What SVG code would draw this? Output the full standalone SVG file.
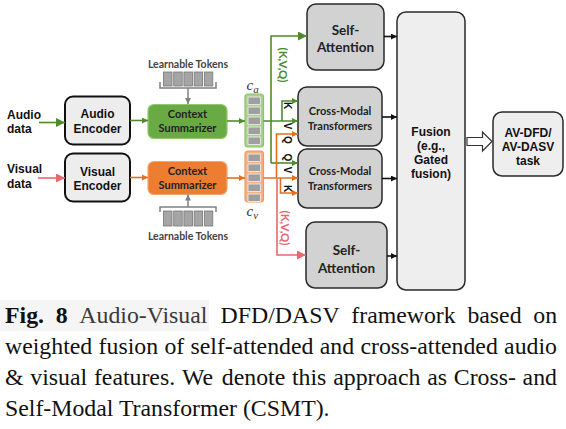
<svg xmlns="http://www.w3.org/2000/svg" width="566" height="429" viewBox="0 0 566 429">
<style>
.ar{font-family:"Liberation Sans",Arial,sans-serif;font-weight:bold;font-size:12px;fill:#111;text-anchor:middle}
.lb{font-family:"Liberation Sans",Arial,sans-serif;font-weight:bold;font-size:12px;fill:#111}
.cb{font-family:Lato,"Open Sans",sans-serif;font-weight:bold;font-size:11px;fill:#222;text-anchor:middle}
.sa{font-family:Lato,"Open Sans",sans-serif;font-weight:bold;font-size:13.5px;fill:#222;text-anchor:middle}
.lt{font-family:Lato,"Open Sans",sans-serif;font-weight:bold;font-size:10.5px;fill:#444;text-anchor:middle}
.kv{font-family:"Liberation Sans",Arial,sans-serif;font-weight:bold;font-size:10px;fill:#111;text-anchor:middle}
.kvq{font-family:Lato,"Open Sans",sans-serif;font-weight:bold;font-size:11.5px;text-anchor:middle}
.cv{font-family:"Liberation Serif","Times New Roman",serif;font-style:italic;font-size:15px;fill:#333}
.cap{font-family:"Liberation Serif","Times New Roman",serif;font-size:23.8px;fill:#111}
.enc{fill:#ededed;stroke:#111;stroke-width:2}
.att{fill:#d2d2d2;stroke:#2a2a2a;stroke-width:1.5}
.big{fill:#eeeeee;stroke:#2a2a2a;stroke-width:1.5}
.tok{fill:#a5a5a5;stroke:#777;stroke-width:0.8}
.cell{fill:#9f9f9f;stroke:#f2f2f2;stroke-width:0.8}
.g{stroke:#4e8b2c;stroke-width:1.6;fill:none}
.o{stroke:#e0701e;stroke-width:1.6;fill:none}
.p{stroke:#e9676d;stroke-width:1.6;fill:none}
.k{stroke:#111;stroke-width:1.6;fill:none}
.gr{stroke:#808080;stroke-width:1.5;fill:none}
</style>
<defs>
<marker id="mgB" viewBox="0 0 10 10" refX="10" refY="5" markerWidth="11" markerHeight="9" markerUnits="userSpaceOnUse" orient="auto"><path d="M0,0 L10,5 L0,10 z" fill="#4e8b2c"/></marker>
<marker id="mgS" viewBox="0 0 10 10" refX="10" refY="5" markerWidth="7" markerHeight="6" markerUnits="userSpaceOnUse" orient="auto"><path d="M0,0 L10,5 L0,10 z" fill="#4e8b2c"/></marker>
<marker id="moS" viewBox="0 0 10 10" refX="10" refY="5" markerWidth="7" markerHeight="6" markerUnits="userSpaceOnUse" orient="auto"><path d="M0,0 L10,5 L0,10 z" fill="#e0701e"/></marker>
<marker id="mpB" viewBox="0 0 10 10" refX="10" refY="5" markerWidth="11" markerHeight="9" markerUnits="userSpaceOnUse" orient="auto"><path d="M0,0 L10,5 L0,10 z" fill="#e9676d"/></marker>
<marker id="mkS" viewBox="0 0 10 10" refX="10" refY="5" markerWidth="6" markerHeight="6" markerUnits="userSpaceOnUse" orient="auto"><path d="M0,0 L10,5 L0,10 z" fill="#111"/></marker>
<marker id="mgr" viewBox="0 0 10 10" refX="10" refY="5" markerWidth="6" markerHeight="6" markerUnits="userSpaceOnUse" orient="auto"><path d="M0,0 L10,5 L0,10 z" fill="#808080"/></marker>
</defs>

<g id="audio-data"><text class="lb" x="7" y="118.5">Audio</text><text class="lb" x="7" y="133">data</text></g>
<g id="visual-data"><text class="lb" x="7" y="173">Visual</text><text class="lb" x="7" y="188">data</text></g>

<g id="audio-encoder"><rect class="enc" x="65" y="96.5" width="65" height="48" rx="8"/><text class="ar" x="97.5" y="118">Audio</text><text class="ar" x="97.5" y="132.5">Encoder</text></g>
<g id="visual-encoder"><rect class="enc" x="65" y="153.5" width="65" height="48" rx="8"/><text class="ar" x="97.5" y="175.5">Visual</text><text class="ar" x="97.5" y="190">Encoder</text></g>

<g id="audio-summarizer"><rect x="148" y="104.5" width="79" height="34" rx="6" fill="#6aaa45" stroke="#93c872" stroke-width="1.2"/><text class="cb" x="187.5" y="118">Context</text><text class="cb" x="187.5" y="132">Summarizer</text></g>
<g id="visual-summarizer"><rect x="148" y="161.5" width="79" height="33" rx="6" fill="#ed7d31" stroke="#f4a56f" stroke-width="1.2"/><text class="cb" x="187.5" y="175">Context</text><text class="cb" x="187.5" y="189">Summarizer</text></g>

<g id="tokens-top">
<text class="lt" x="188" y="67.5">Learnable Tokens</text>
<rect class="tok" x="163.5" y="72" width="8.5" height="14"/><rect class="tok" x="173.7" y="72" width="8.5" height="14"/><rect class="tok" x="183.9" y="72" width="8.5" height="14"/><rect class="tok" x="194.1" y="72" width="8.5" height="14"/><rect class="tok" x="204.3" y="72" width="8.5" height="14"/>
<path class="gr" d="M160,82 V88 H216 V82"/>
</g>
<g id="tokens-bottom">
<path class="gr" d="M160,212 V207 H216 V212"/>
<rect class="tok" x="163.5" y="211" width="8.5" height="15"/><rect class="tok" x="173.7" y="211" width="8.5" height="15"/><rect class="tok" x="183.9" y="211" width="8.5" height="15"/><rect class="tok" x="194.1" y="211" width="8.5" height="15"/><rect class="tok" x="204.3" y="211" width="8.5" height="15"/>
<text class="lt" x="188" y="239.5">Learnable Tokens</text>
</g>

<g id="ca-stack">
<rect x="245" y="94" width="18.5" height="53" rx="3" fill="#a9d18e" stroke="#8cc46a" stroke-width="1.2"/>
<rect class="cell" x="248" y="97" width="12.5" height="7.5"/><rect class="cell" x="248" y="107" width="12.5" height="7.5"/><rect class="cell" x="248" y="117" width="12.5" height="7.5"/><rect class="cell" x="248" y="127" width="12.5" height="7.5"/><rect class="cell" x="248" y="137" width="12.5" height="7.5"/>
<text class="cv" x="246.5" y="90">c<tspan font-size="11" dy="3">a</tspan></text>
</g>
<g id="cv-stack">
<rect x="245" y="151" width="18.5" height="51" rx="3" fill="#f4b183" stroke="#eb9a62" stroke-width="1.2"/>
<rect class="cell" x="248" y="154" width="12.5" height="7.5"/><rect class="cell" x="248" y="164" width="12.5" height="7.5"/><rect class="cell" x="248" y="174" width="12.5" height="7.5"/><rect class="cell" x="248" y="184" width="12.5" height="7.5"/><rect class="cell" x="248" y="194" width="12.5" height="7.5"/>
<text class="cv" x="246.5" y="216">c<tspan font-size="11" dy="3">v</tspan></text>
</g>

<g id="self-attention-audio"><rect class="att" x="307" y="4" width="77" height="66" rx="9"/><text class="sa" x="345.5" y="34.5">Self-</text><text class="sa" x="345.5" y="51.5">Attention</text></g>
<g id="cross-modal-1"><rect class="att" x="298" y="87" width="84" height="59" rx="9"/><text class="cb" x="340" y="115">Cross-Modal</text><text class="cb" x="340" y="130">Transformers</text></g>
<g id="cross-modal-2"><rect class="att" x="298" y="149" width="84" height="59" rx="9"/><text class="cb" x="340" y="175">Cross-Modal</text><text class="cb" x="340" y="190">Transformers</text></g>
<g id="self-attention-visual"><rect class="att" x="306" y="222" width="81" height="66" rx="9"/><text class="sa" x="346.5" y="254.5">Self-</text><text class="sa" x="346.5" y="272.5">Attention</text></g>

<g id="fusion"><rect class="big" x="397" y="12" width="68" height="278" rx="9"/><text class="ar" x="431" y="135.5">Fusion</text><text class="ar" x="431" y="150">(e.g.,</text><text class="ar" x="431" y="164">Gated</text><text class="ar" x="431" y="178">fusion)</text></g>
<g id="task"><rect class="big" x="493" y="112" width="70" height="64" rx="9"/><text class="ar" x="528" y="137">AV-DFD/</text><text class="ar" x="528" y="151">AV-DASV</text><text class="ar" x="528" y="165">task</text></g>

<g id="connectors">
<path class="g" d="M39,122.5 H65" marker-end="url(#mgB)"/>
<path class="p" d="M38,178 H65" marker-end="url(#mpB)"/>
<path class="g" d="M130,120.5 H148" marker-end="url(#mgS)"/>
<path class="o" d="M130,177.5 H148" marker-end="url(#moS)"/>
<path class="g" d="M227,121 H245" marker-end="url(#mgS)"/>
<path class="o" d="M227,178 H245" marker-end="url(#moS)"/>
<path class="gr" d="M188,88 V104" marker-end="url(#mgr)"/>
<path class="gr" d="M188,207 V194.5" marker-end="url(#mgr)"/>
<path class="g" d="M263.5,121 H298" marker-end="url(#mgS)"/>
<path class="g" d="M282,121 V101 H298" marker-end="url(#mgS)"/>
<path class="g" d="M271,163 V36 H307" marker-end="url(#mgB)"/>
<path class="g" d="M271,163 H298" marker-end="url(#mgS)"/>
<path class="o" d="M263.5,178 H298" marker-end="url(#moS)"/>
<path class="o" d="M276.5,178 V134 H298" marker-end="url(#moS)"/>
<path class="o" d="M280.5,178 V193 H298" marker-end="url(#moS)"/>
<path class="p" d="M277,179 V255 H306" marker-end="url(#mpB)"/>
<path class="k" d="M384,36.5 H397" marker-end="url(#mkS)"/>
<path class="k" d="M382,117 H397" marker-end="url(#mkS)"/>
<path class="k" d="M382,178.5 H397" marker-end="url(#mkS)"/>
<path class="k" d="M387,256 H397" marker-end="url(#mkS)"/>
<path d="M467,137.5 H482.5 V132 L492,141.5 L482.5,151 V145.5 H467 Z" fill="#fff" stroke="#333" stroke-width="1.2"/>
<text class="kvq" fill="#4e8b2c" transform="translate(278.5,65) rotate(90)">(K,V,Q)</text>
<text class="kvq" fill="#e9676d" transform="translate(280.5,228) rotate(90)">(K,V,Q)</text>
<text class="kv" transform="translate(284,105.5) rotate(90)">K</text>
<text class="kv" transform="translate(284,126) rotate(90)">V</text>
<text class="kv" transform="translate(284,140) rotate(90)">Q</text>
<text class="kv" transform="translate(284,157.5) rotate(90)">Q</text>
<text class="kv" transform="translate(284,170) rotate(90)">V</text>
<text class="kv" transform="translate(284,188.5) rotate(90)">K</text>
</g>

<g id="caption">
<rect x="0" y="300" width="209" height="31" fill="#f5f5f5"/>
<text class="cap" y="323" fill="#333"><tspan x="5" font-weight="bold">Fig.</tspan><tspan x="55.7" font-weight="bold">8</tspan><tspan x="79.3" fill="#3a3a3a">Audio-Visual</tspan></text>
<text class="cap" y="323"><tspan x="220.6">DFD/DASV</tspan><tspan x="351.3">framework</tspan><tspan x="467.4">based</tspan><tspan x="533.3">on</tspan></text>
<text class="cap" y="354"><tspan x="5">weighted</tspan><tspan x="98.6">fusion</tspan><tspan x="164.4">of</tspan><tspan x="190.5">self-attended</tspan><tspan x="319.7">and</tspan><tspan x="360.4">cross-attended</tspan><tspan x="504.1">audio</tspan></text>
<text class="cap" y="385"><tspan x="5">&amp;</tspan><tspan x="30.3">visual</tspan><tspan x="93.9">features.</tspan><tspan x="182">We</tspan><tspan x="221.8">denote</tspan><tspan x="292">this</tspan><tspan x="333.2">approach</tspan><tspan x="427.2">as</tspan><tspan x="453.8">Cross-</tspan><tspan x="522.6">and</tspan></text>
<text class="cap" x="5" y="416">Self-Modal Transformer (CSMT).</text>
</g>
</svg>
